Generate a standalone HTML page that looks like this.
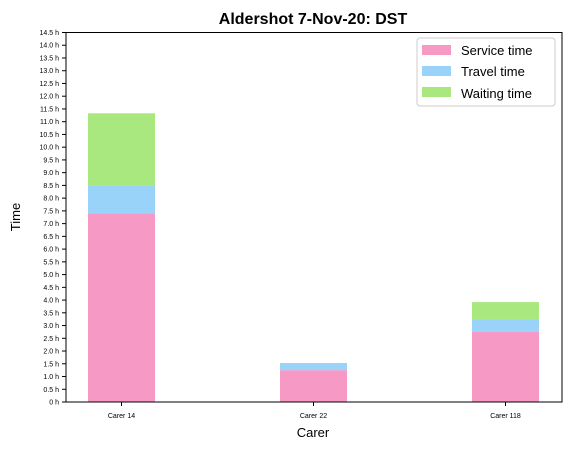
<!DOCTYPE html>
<html><head><meta charset="utf-8"><style>
body{margin:0;background:#fff;font-family:"Liberation Sans","DejaVu Sans",sans-serif}
</style></head><body>
<svg width="571" height="450" xmlns="http://www.w3.org/2000/svg">
<rect width="571" height="450" fill="#fff"/>
<text x="313" y="24" text-anchor="middle" font-size="16" font-weight="bold">Aldershot 7-Nov-20: DST</text>
<g id="bars"></g>
<g id="yticks"></g>
<g id="xticks"></g>
<rect x="66" y="32.5" width="496" height="369.5" fill="none" stroke="#000" stroke-width="1"/>
<text x="313" y="437" text-anchor="middle" font-size="13">Carer</text>
<text x="20" y="217" text-anchor="middle" font-size="13" transform="rotate(-90 20 217)">Time</text>
<g>
<rect x="417" y="38" width="138" height="68" rx="3" fill="#fff" stroke="#ccc"/>
<g><rect x="422" y="45" width="29" height="10" fill="#f799c5"/><text x="461" y="55" font-size="13">Service time</text></g>
<g><rect x="422" y="66" width="29" height="10" fill="#99d3fa"/><text x="461" y="76" font-size="13">Travel time</text></g>
<g><rect x="422" y="87" width="29" height="10" fill="#a8e87e"/><text x="461" y="98" font-size="13">Waiting time</text></g>
</g>
</svg>
<script>
const categories=["Carer 14","Carer 22","Carer 118"];
const service=[7.41,1.25,2.75];
const travel=[1.1,0.28,0.47];
const waiting=[2.82,0,0.7];
const yTicks=[0,0.5,1,1.5,2,2.5,3,3.5,4,4.5,5,5.5,6,6.5,7,7.5,8,8.5,9,9.5,10,10.5,11,11.5,12,12.5,13,13.5,14,14.5];
const NS="http://www.w3.org/2000/svg";
const y0=402,y1=32.5,yMax=14.5;
function Y(v){return y0-(v/yMax)*(y0-y1);}
function X(i){return 121.5+i*192;}
const bw=67;
const bars=document.getElementById('bars');
const series=[[service,'#f799c5','service'],[travel,'#99d3fa','travel'],[waiting,'#a8e87e','waiting']];
categories.forEach((c,i)=>{
  let base=0;
  series.forEach(([arr,col,nm])=>{
    const v=arr[i];
    if(v>0){
      const r=document.createElementNS(NS,'rect');
      r.setAttribute('x',X(i)-bw/2);r.setAttribute('width',bw);
      r.setAttribute('y',Y(base+v));r.setAttribute('height',Y(base)-Y(base+v));
      r.setAttribute('fill',col);
      
      
      bars.appendChild(r);
    }
    base+=v;
  });
  const xt=document.getElementById('xticks');
  const l=document.createElementNS(NS,'line');
  l.setAttribute('x1',X(i));l.setAttribute('x2',X(i));l.setAttribute('y1',402);l.setAttribute('y2',406);l.setAttribute('stroke','#000');
  xt.appendChild(l);
  const t=document.createElementNS(NS,'text');
  t.setAttribute('x',X(i));t.setAttribute('y',418);t.setAttribute('text-anchor','middle');t.setAttribute('font-size','7');
  t.textContent=c;
  
  
  xt.appendChild(t);
});
const yt=document.getElementById('yticks');
yTicks.forEach(v=>{
  const l=document.createElementNS(NS,'line');
  l.setAttribute('x1',62);l.setAttribute('x2',66);l.setAttribute('y1',Y(v));l.setAttribute('y2',Y(v));l.setAttribute('stroke','#000');
  yt.appendChild(l);
  const t=document.createElementNS(NS,'text');
  t.setAttribute('x',59);t.setAttribute('y',Y(v)+2.5);t.setAttribute('text-anchor','end');t.setAttribute('font-size','7');
  t.textContent=(v===0?'0':v.toFixed(1))+' h';
  
  
  yt.appendChild(t);
});
</script>
</body></html>
